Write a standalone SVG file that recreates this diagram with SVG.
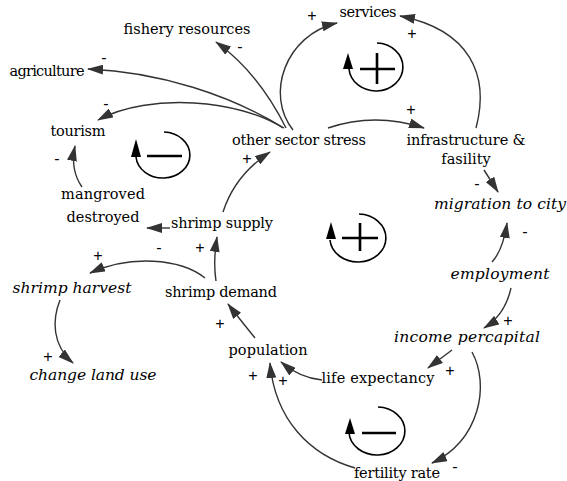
<svg xmlns="http://www.w3.org/2000/svg" width="567" height="481" viewBox="0 0 567 481">
<defs>
<marker id="ah" viewBox="0 0 16 10" refX="15" refY="5" markerWidth="16" markerHeight="10" markerUnits="userSpaceOnUse" orient="auto">
<path d="M0,0 L16,5 L0,10 z" fill="#333"/>
</marker>
<style>
.lbl{font-family:"DejaVu Serif","Liberation Serif",serif;font-size:14.5px;fill:#000;text-anchor:middle}
.it{font-style:italic;font-size:15.5px}
.sg{font-family:"Liberation Sans","DejaVu Sans",sans-serif;font-size:16px;fill:#000;text-anchor:middle;dominant-baseline:central}
.c{fill:none;stroke:#333;stroke-width:1.4;marker-end:url(#ah)}
.loop{fill:none;stroke:#000;stroke-width:1.6}
.sym{stroke:#000;stroke-width:2.6;fill:none}
</style>
</defs>
<rect width="567" height="481" fill="#fff"/>

<g id="connectors">
<path class="c" d="M286,128 Q258,72 216,42"/>
<path class="c" d="M284,128 C230,95 160,72 88,69"/>
<path class="c" d="M283,128 C240,100 150,92 98,120"/>
<path class="c" d="M293,130 C265,95 285,35 337,23"/>
<path class="c" d="M476,128 C490,75 470,30 400,16"/>
<path class="c" d="M328,128 Q375,112 424,128"/>
<path class="c" d="M484,170 L498,192"/>
<path class="c" d="M492,262 Q503,250 507,223"/>
<path class="c" d="M511,288 Q505,315 484,328"/>
<path class="c" d="M452,350 L428,368"/>
<path class="c" d="M472,352 C490,385 480,440 432,463"/>
<path class="c" d="M355,468 C310,455 275,420 270,363"/>
<path class="c" d="M322,380 Q300,378 281,362"/>
<path class="c" d="M255,338 Q242,322 228,304"/>
<path class="c" d="M216,281 Q213,262 217,237"/>
<path class="c" d="M170,228 L147,228"/>
<path class="c" d="M223,212 Q235,175 270,152"/>
<path class="c" d="M205,278 C180,258 130,255 90,273"/>
<path class="c" d="M60,300 C52,320 52,345 73,363"/>
<path class="c" d="M82,187 Q70,170 75,146"/>
</g>

<g id="signs">
<text class="sg" x="240" y="46">-</text>
<text class="sg" x="104" y="57">-</text>
<text class="sg" x="106" y="103">-</text>
<text class="sg" x="312" y="15">+</text>
<text class="sg" x="412" y="33">+</text>
<text class="sg" x="411" y="109">+</text>
<text class="sg" x="247" y="158">+</text>
<text class="sg" x="477" y="183">-</text>
<text class="sg" x="525" y="231">-</text>
<text class="sg" x="508" y="320">+</text>
<text class="sg" x="450" y="370">+</text>
<text class="sg" x="455" y="466">-</text>
<text class="sg" x="253" y="375">+</text>
<text class="sg" x="283" y="380">+</text>
<text class="sg" x="220" y="323">+</text>
<text class="sg" x="200" y="247">+</text>
<text class="sg" x="159" y="247">-</text>
<text class="sg" x="98" y="255">+</text>
<text class="sg" x="48" y="356">+</text>
<text class="sg" x="57" y="158">-</text>
</g>

<g id="loop-R1" transform="translate(376,67)">
<path class="loop" d="M-27,2 A27,24 0 1 0 1,-24"/>
<path d="M-28,-14 L-33,2 L-23,2 z" fill="#000"/>
<path class="sym" d="M-16,2 L19,2 M1,-14 L1,17"/>
</g>
<g id="loop-B1" transform="translate(163,155)">
<path class="loop" d="M-27,2 A27,23 0 1 0 1,-23"/>
<path d="M-27,-16 L-32,2 L-22,2 z" fill="#000"/>
<path class="sym" d="M-16,1 L19,1"/>
</g>
<g id="loop-R2" transform="translate(358,238)">
<path class="loop" d="M-28,2 A28,24 0 1 0 1,-24"/>
<path d="M-27,-16 L-32,1 L-22,1 z" fill="#000"/>
<path class="sym" d="M-16,0 L20,0 M2,-15 L2,13"/>
</g>
<g id="loop-B2" transform="translate(377,431)">
<path class="loop" d="M-28,2 A28,24 0 1 0 1,-24"/>
<path d="M-27,-13 L-32,3 L-22,3 z" fill="#000"/>
<path class="sym" d="M-15,2 L19,2"/>
</g>

<g id="n-services"><text class="lbl" x="368" y="17" textLength="57">services</text></g>
<g id="n-fishery"><text class="lbl" x="187" y="34" textLength="127">fishery resources</text></g>
<g id="n-agriculture"><text class="lbl" x="47" y="76" textLength="75">agriculture</text></g>
<g id="n-tourism"><text class="lbl" x="78" y="136" textLength="55">tourism</text></g>
<g id="n-stress"><text class="lbl" x="299" y="145" textLength="134">other sector stress</text></g>
<g id="n-infra"><text class="lbl" x="466" y="145" textLength="119">infrastructure &amp;</text><text class="lbl" x="466" y="164">fasility</text></g>
<g id="n-migration"><text class="lbl it" x="500" y="209" textLength="132">migration to city</text></g>
<g id="n-mangroved"><text class="lbl" x="103" y="199" textLength="84">mangroved</text><text class="lbl" x="103" y="222" textLength="73">destroyed</text></g>
<g id="n-supply"><text class="lbl" x="222" y="228" textLength="102">shrimp supply</text></g>
<g id="n-employment"><text class="lbl it" x="500" y="279" textLength="99">employment</text></g>
<g id="n-harvest"><text class="lbl it" x="72" y="293" textLength="119">shrimp harvest</text></g>
<g id="n-demand"><text class="lbl" x="221" y="297" textLength="112">shrimp demand</text></g>
<g id="n-income"><text class="lbl it" x="467" y="342" textLength="146">income percapital</text></g>
<g id="n-population"><text class="lbl" x="268" y="355" textLength="79">population</text></g>
<g id="n-life"><text class="lbl" x="378" y="383" textLength="113">life expectancy</text></g>
<g id="n-landuse"><text class="lbl it" x="93" y="380" textLength="127">change land use</text></g>
<g id="n-fertility"><text class="lbl" x="397" y="478" textLength="86">fertility rate</text></g>
</svg>
